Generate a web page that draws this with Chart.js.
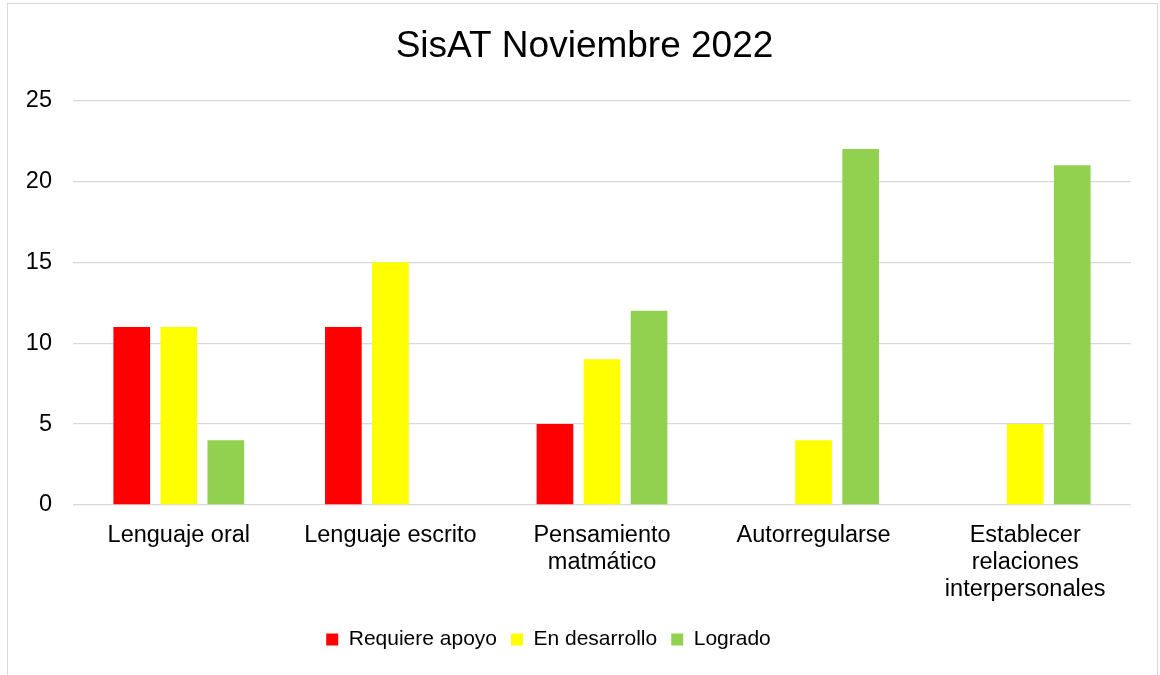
<!DOCTYPE html>
<html>
<head>
<meta charset="utf-8">
<script src="https://cdn.jsdelivr.net/npm/chart.js@4/dist/chart.umd.min.js"></script>
<style>
  html, body { margin: 0; padding: 0; background: #fff; }
  #frame {
    position: absolute; left: 7px; top: 3px; width: 1151px; height: 700px;
    border: 1px solid #d9d9d9; box-sizing: border-box;
  }
  #chart { position: absolute; left: 0; top: 0; }
</style>
</head>
<body>
<div id="frame"></div>
<canvas id="chart" width="1160" height="675"></canvas>
<script>
const categories = [
    "Lenguaje oral",
    "Lenguaje escrito",
    ["Pensamiento", "matmático"],
    "Autorregularse",
    ["Establecer", "relaciones", "interpersonales"],
];
const requiere_apoyo = [11, 11, 5, 0, 0];
const en_desarrollo = [11, 15, 9, 4, 5];
const logrado = [4, 0, 12, 22, 21];

const FONT = "'Liberation Sans', Arial, sans-serif";

const make_dataset = (label, values, color) => ({
    label: label,
    data: values,
    backgroundColor: color,
    borderWidth: 0,
    barPercentage: 0.78,
    categoryPercentage: 0.667,
});

// the original's title and legend are not centred on the plot, move them a bit
const box_shift = {
    id: "box_shift",
    afterLayout(chart) {
        const lg = chart.legend;
        if (lg) {
            lg.left -= 17;
            lg.right -= 17;
        }
        const t = chart.titleBlock;
        if (t) {
            t.left += 19;
            t.right += 19;
        }
    },
};

const ctx = document.getElementById("chart").getContext("2d");
const chart = new Chart(ctx, {
    type: "bar",
    data: {
        labels: categories,
        datasets: [
            make_dataset("Requiere apoyo", requiere_apoyo, "#ff0000"),
            make_dataset("En desarrollo", en_desarrollo, "#ffff00"),
            make_dataset("Logrado", logrado, "#92d050"),
        ],
    },
    options: {
        responsive: false,
        animation: false,
        devicePixelRatio: 1,
        layout: { padding: { left: 0, right: 29, top: 0, bottom: 15 } },
        plugins: {
            title: {
                display: true,
                text: "SisAT Noviembre 2022",
                color: "#000",
                font: { family: FONT, size: 37, weight: "normal" },
                padding: { top: 25, bottom: 31 },
            },
            legend: {
                position: "bottom",
                labels: {
                    color: "#000",
                    font: { family: FONT, size: 21 },
                    boxWidth: 12,
                    boxHeight: 12,
                    padding: 14,
                },
            },
            tooltip: { enabled: false },
        },
        scales: {
            x: {
                grid: { display: false, drawTicks: false },
                border: { display: false },
                ticks: {
                    color: "#000",
                    font: { family: FONT, size: 23.5, lineHeight: 1.15 },
                    padding: 17,
                    maxRotation: 0,
                    autoSkip: false,
                },
                afterFit: (scale) => {
                    scale.height = 110;
                },
            },
            y: {
                min: 0,
                max: 25,
                ticks: {
                    stepSize: 5,
                    color: "#000",
                    font: { family: FONT, size: 23.5 },
                    padding: 21,
                },
                grid: { color: "#d9d9d9", lineWidth: 1.3, drawTicks: false },
                border: { display: false },
                afterFit: (scale) => {
                    scale.width = 73;
                },
            },
        },
    },
    plugins: [box_shift],
});
</script>
</body>
</html>
